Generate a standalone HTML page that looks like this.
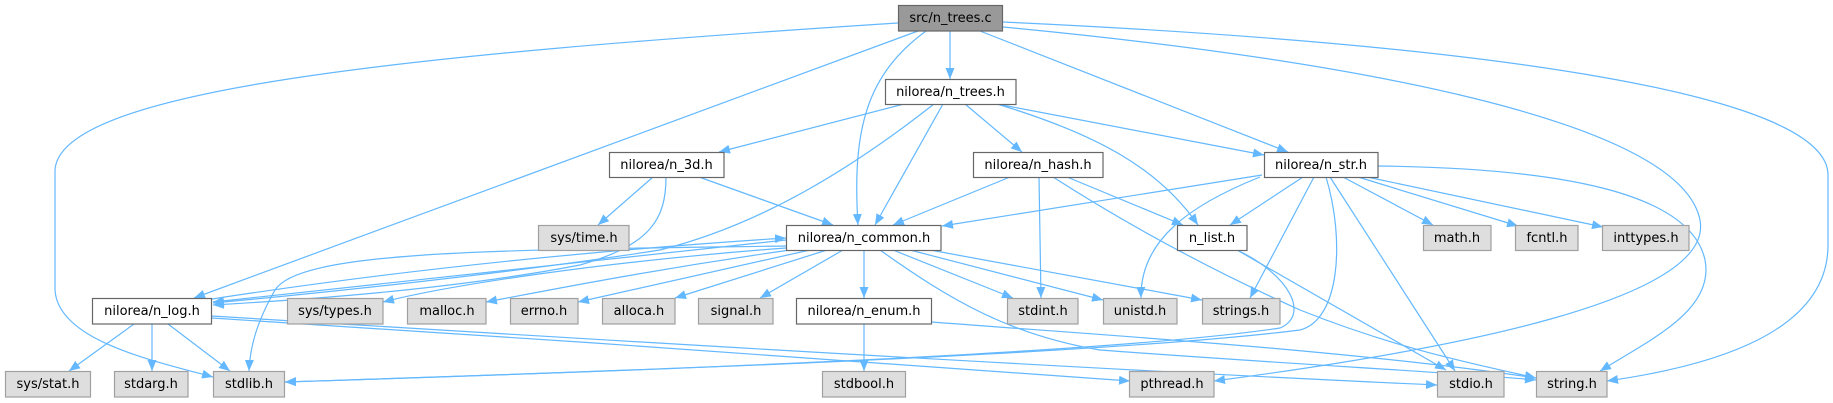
<!DOCTYPE html>
<html><head><meta charset="utf-8"><style>
html,body{margin:0;padding:0;background:#fff;}
svg{display:block;}
text{font-family:"DejaVu Sans","Liberation Sans",sans-serif;font-size:13px;fill:#000;text-anchor:middle;}
.e{fill:none;stroke:#63b8ff;stroke-width:1.2;}
.w{fill:#fff;stroke:#666;stroke-width:1.2;}
.g{fill:#dedede;stroke:#a0a0a0;stroke-width:1.2;}
.r{fill:#999;stroke:#666;stroke-width:1.2;}
</style></head><body>
<svg width="1833" height="403" viewBox="0 0 1833 403" xmlns="http://www.w3.org/2000/svg">
<defs>
<marker id="a" markerWidth="12" markerHeight="10" refX="11" refY="4.5" orient="auto" markerUnits="userSpaceOnUse"><path d="M0,0 L11,4.5 L0,9 z" fill="#63b8ff"/></marker>
</defs>
<g marker-end="url(#a)">
<path class="e" d="M950,31 L950,79"/>
<path class="e" d="M926,31 C866,75 852,130 858,225"/>
<path class="e" d="M918,31 L194,298"/>
<path class="e" d="M898,23 C400,55 60,90 55,170 L55,290 C58,340 150,360 213,377"/>
<path class="e" d="M980,31 L1288,152"/>
<path class="e" d="M1003,27 C1350,60 1680,120 1700,220 C1715,300 1450,350 1214,381"/>
<path class="e" d="M1003,22 C1500,45 1828,95 1828,175 L1828,245 C1828,330 1720,365 1607,381"/>
<path class="e" d="M904,104 L719,152"/>
<path class="e" d="M965,104 L1022,152"/>
<path class="e" d="M943,104 L875,225"/>
<path class="e" d="M934,104 C850,170 760,225 660,250 C500,275 300,295 213,303"/>
<path class="e" d="M997,104 C1100,135 1160,170 1198,225"/>
<path class="e" d="M997,104 L1264,155"/>
<path class="e" d="M653,177 L598,225"/>
<path class="e" d="M699,177 L833,225"/>
<path class="e" d="M666,177 C666,220 650,245 580,265 C450,290 300,300 213,305"/>
<path class="e" d="M1010,177 L893,225"/>
<path class="e" d="M1039,177 L1041,298"/>
<path class="e" d="M1053,177 C1120,220 1200,265 1300,310 C1400,350 1480,365 1536,378"/>
<path class="e" d="M1067,177 L1183,225"/>
<path class="e" d="M1262,175 L942,226"/>
<path class="e" d="M1303,177 L1230,225"/>
<path class="e" d="M1260,177 C1190,205 1140,240 1141,298"/>
<path class="e" d="M1314,177 L1250,298"/>
<path class="e" d="M1326,177 C1345,240 1340,320 1300,330 C1100,355 600,372 285,382"/>
<path class="e" d="M1330,177 L1455,371"/>
<path class="e" d="M1343,177 L1433,225"/>
<path class="e" d="M1358,177 L1518,226"/>
<path class="e" d="M1367,177 L1603,227"/>
<path class="e" d="M1378,166 C1550,168 1690,190 1705,260 C1715,310 1650,340 1600,371"/>
<path class="e" d="M786,240 L213,302"/>
<path class="e" d="M212,299 C400,270 600,250 786,238"/>
<path class="e" d="M786,248 C600,262 450,285 383,302"/>
<path class="e" d="M790,250 C650,270 550,290 486,302"/>
<path class="e" d="M810,250 L578,302"/>
<path class="e" d="M827,250 L675,298"/>
<path class="e" d="M843,250 L760,298"/>
<path class="e" d="M864,250 L864,298"/>
<path class="e" d="M893,250 L1013,298"/>
<path class="e" d="M910,250 L1103,300"/>
<path class="e" d="M930,250 L1202,300"/>
<path class="e" d="M880,250 C950,300 1010,335 1100,350 C1300,365 1450,372 1536,380"/>
<path class="e" d="M786,246 C500,250 300,250 275,290 C258,320 250,345 249,371"/>
<path class="e" d="M134,324 L69,371"/>
<path class="e" d="M152,324 L152,371"/>
<path class="e" d="M168,324 L230,371"/>
<path class="e" d="M212,318 C500,335 900,365 1130,381"/>
<path class="e" d="M212,316 C600,340 1100,370 1437,385"/>
<path class="e" d="M864,324 L864,371"/>
<path class="e" d="M932,322 C1100,335 1350,350 1536,378"/>
<path class="e" d="M1237,250 L1446,370"/>
<path class="e" d="M1237,250 C1290,275 1310,315 1280,328 C1100,355 600,372 285,382"/>
</g>

<!-- row 1 -->
<rect class="r" x="898.5" y="5.5" width="104" height="25.5"/><text x="950.5" y="22">src/n_trees.c</text>
<!-- row 2 -->
<rect class="w" x="885.5" y="79.5" width="130.5" height="25"/><text x="950.5" y="96">nilorea/n_trees.h</text>
<!-- row 3 -->
<rect class="w" x="609.5" y="152.5" width="114.5" height="25"/><text x="666.5" y="169">nilorea/n_3d.h</text>
<rect class="w" x="973.5" y="152.5" width="129.5" height="25"/><text x="1038" y="169">nilorea/n_hash.h</text>
<rect class="w" x="1264.5" y="152.5" width="113.5" height="25"/><text x="1321" y="169">nilorea/n_str.h</text>
<!-- row 4 -->
<rect class="g" x="538.5" y="225.5" width="90.5" height="25"/><text x="584" y="242">sys/time.h</text>
<rect class="w" x="786.5" y="225.5" width="154.5" height="25"/><text x="864" y="242">nilorea/n_common.h</text>
<rect class="w" x="1177.5" y="225.5" width="69.5" height="25"/><text x="1212" y="242">n_list.h</text>
<rect class="g" x="1423.5" y="225.5" width="67.5" height="25"/><text x="1457" y="242">math.h</text>
<rect class="g" x="1515.5" y="225.5" width="62.5" height="25"/><text x="1547" y="242">fcntl.h</text>
<rect class="g" x="1602.5" y="225.5" width="86.5" height="25"/><text x="1646" y="242">inttypes.h</text>
<!-- row 5 -->
<rect class="w" x="92.5" y="298.5" width="119" height="25.5"/><text x="152" y="315">nilorea/n_log.h</text>
<rect class="g" x="287.5" y="298.5" width="95.5" height="25.5"/><text x="335" y="315">sys/types.h</text>
<rect class="g" x="407.5" y="298.5" width="78.5" height="25.5"/><text x="447" y="315">malloc.h</text>
<rect class="g" x="510.5" y="298.5" width="67.5" height="25.5"/><text x="544" y="315">errno.h</text>
<rect class="g" x="602.5" y="298.5" width="72.5" height="25.5"/><text x="639" y="315">alloca.h</text>
<rect class="g" x="698.5" y="298.5" width="74.5" height="25.5"/><text x="736" y="315">signal.h</text>
<rect class="w" x="796.5" y="298.5" width="135" height="25.5"/><text x="864" y="315">nilorea/n_enum.h</text>
<rect class="g" x="1007.5" y="298.5" width="70.5" height="25.5"/><text x="1043" y="315">stdint.h</text>
<rect class="g" x="1103.5" y="298.5" width="73.5" height="25.5"/><text x="1140" y="315">unistd.h</text>
<rect class="g" x="1202.5" y="298.5" width="77.5" height="25.5"/><text x="1241" y="315">strings.h</text>
<!-- row 6 -->
<rect class="g" x="5.5" y="371.5" width="85" height="25.5"/><text x="48" y="388">sys/stat.h</text>
<rect class="g" x="114.5" y="371.5" width="73.5" height="25.5"/><text x="151" y="388">stdarg.h</text>
<rect class="g" x="213.5" y="371.5" width="71" height="25.5"/><text x="249" y="388">stdlib.h</text>
<rect class="g" x="822.5" y="371.5" width="83" height="25.5"/><text x="864" y="388">stdbool.h</text>
<rect class="g" x="1129.5" y="371.5" width="84.5" height="25.5"/><text x="1172" y="388">pthread.h</text>
<rect class="g" x="1437.5" y="371.5" width="66.5" height="25.5"/><text x="1471" y="388">stdio.h</text>
<rect class="g" x="1536.5" y="371.5" width="70.5" height="25.5"/><text x="1572" y="388">string.h</text>
</svg>
</body></html>
